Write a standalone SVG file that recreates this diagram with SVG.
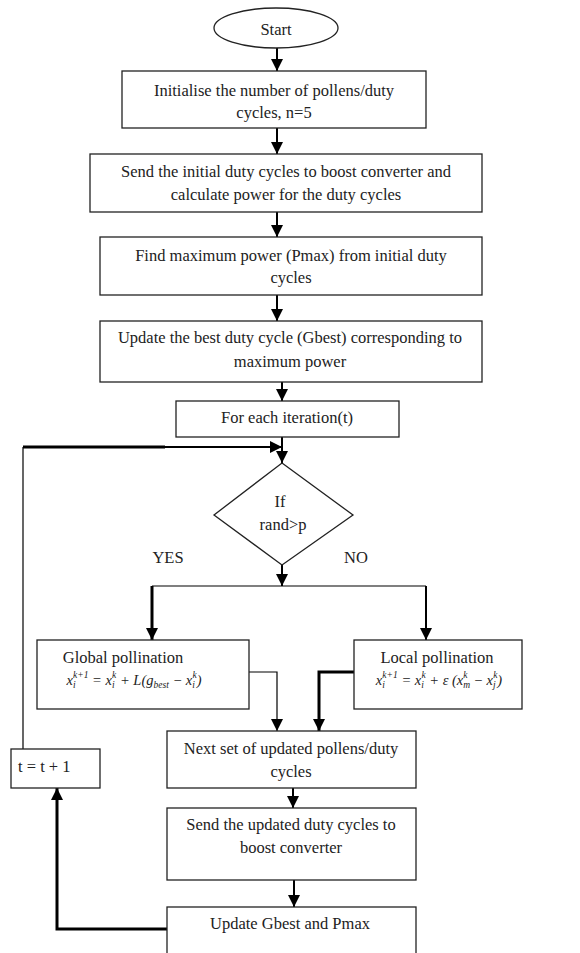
<svg xmlns="http://www.w3.org/2000/svg" width="580" height="953" viewBox="0 0 580 953">
<style>
.box{fill:#fff;stroke:#222;stroke-width:1.3}
.t{font-family:"Liberation Serif","Times New Roman",serif;font-size:16.5px;fill:#222;text-anchor:middle}
.m{font-family:"Liberation Serif","Times New Roman",serif;font-size:14.5px;font-style:italic;fill:#222;text-anchor:middle}
.s{font-size:9.5px}
.c{fill:none;stroke:#000;stroke-width:2}
.thick{stroke-width:3}
.thin{stroke-width:1.2}
</style>
<defs>
<marker id="ah" markerUnits="userSpaceOnUse" markerWidth="12" markerHeight="12" viewBox="0 0 12 12" refX="12" refY="6" orient="auto">
<path d="M0,0 L12,6 L0,12 z" fill="#000"/>
</marker>
</defs>
<rect width="580" height="953" fill="#fff"/>
<g id="connectors">
<line class="c" x1="277" y1="48" x2="277" y2="71" marker-end="url(#ah)"/>
<line class="c" x1="277" y1="128" x2="277" y2="154" marker-end="url(#ah)"/>
<line class="c" x1="277" y1="212" x2="277" y2="237" marker-end="url(#ah)"/>
<line class="c" x1="277" y1="295" x2="277" y2="321" marker-end="url(#ah)"/>
<line class="c" x1="282" y1="382" x2="282" y2="401" marker-end="url(#ah)"/>
<line class="c" x1="282" y1="437" x2="282" y2="463" marker-end="url(#ah)"/>
<line class="c thin" x1="23" y1="749" x2="23" y2="447"/>
<line class="c thick" x1="23" y1="447" x2="165" y2="447"/>
<line class="c" x1="164" y1="447" x2="282" y2="447" marker-end="url(#ah)"/>
<line class="c" x1="282" y1="565" x2="282" y2="586" marker-end="url(#ah)"/>
<line class="c thin" x1="152" y1="586" x2="426" y2="586"/>
<line class="c thick" x1="152" y1="586" x2="152" y2="640" marker-end="url(#ah)"/>
<line class="c" x1="426" y1="586" x2="426" y2="640" marker-end="url(#ah)"/>
<polyline class="c thin" points="249,672 277,672 277,731" marker-end="url(#ah)"/>
<polyline class="c thick" points="354,672 319,672 319,731" marker-end="url(#ah)"/>
<line class="c" x1="293" y1="788" x2="293" y2="808" marker-end="url(#ah)"/>
<line class="c" x1="294" y1="880" x2="294" y2="907" marker-end="url(#ah)"/>
<polyline class="c thick" points="167,929 57,929 57,788" marker-end="url(#ah)"/>
</g>
<g id="start">
<ellipse class="box" cx="276" cy="28" rx="62" ry="20"/>
<text class="t" x="276" y="35">Start</text>
</g>
<g id="init">
<rect class="box" x="122" y="71" width="304" height="57"/>
<text class="t" x="274" y="96">Initialise the number of pollens/duty</text>
<text class="t" x="274" y="118">cycles, n=5</text>
</g>
<g id="send-initial">
<rect class="box" x="90" y="154" width="392" height="58"/>
<text class="t" x="286" y="177">Send the initial duty cycles to boost converter and</text>
<text class="t" x="286" y="200">calculate power for the duty cycles</text>
</g>
<g id="find-max">
<rect class="box" x="100" y="237" width="382" height="58"/>
<text class="t" x="291" y="261">Find maximum power (Pmax) from initial duty</text>
<text class="t" x="291" y="283">cycles</text>
</g>
<g id="update-best">
<rect class="box" x="100" y="321" width="382" height="61"/>
<text class="t" x="290" y="343">Update the best duty cycle (Gbest) corresponding to</text>
<text class="t" x="290" y="367">maximum power</text>
</g>
<g id="iteration">
<rect class="box" x="176" y="401" width="223" height="36"/>
<text class="t" x="287" y="423">For each iteration(t)</text>
</g>
<g id="decision">
<polygon class="box" points="282,463 353,515 282,565 214,515"/>
<text class="t" x="280" y="507">If</text>
<text class="t" x="283" y="530">rand&gt;p</text>
</g>
<g id="labels">
<text class="t" x="168" y="563">YES</text>
<text class="t" x="356" y="563">NO</text>
</g>
<g id="global">
<rect class="box" x="37" y="640" width="212" height="69"/>
<text class="t" x="123" y="663">Global pollination</text>
<text class="m" x="134" y="685">x<tspan class="s" dy="3">i</tspan><tspan class="s" dx="-2.5" dy="-10">k+1</tspan><tspan dy="7"> = x</tspan><tspan class="s" dy="3">i</tspan><tspan class="s" dx="-2.5" dy="-10">k</tspan><tspan dy="7"> +  L(g</tspan><tspan class="s" dy="3">best</tspan><tspan dy="-3"> − x</tspan><tspan class="s" dy="3">i</tspan><tspan class="s" dx="-2.5" dy="-10">k</tspan><tspan dy="7">)</tspan></text>
</g>
<g id="local">
<rect class="box" x="354" y="640" width="168" height="69"/>
<text class="t" x="437" y="663">Local pollination</text>
<text class="m" x="439" y="685">x<tspan class="s" dy="3">i</tspan><tspan class="s" dx="-2.5" dy="-10">k+1</tspan><tspan dy="7"> = x</tspan><tspan class="s" dy="3">i</tspan><tspan class="s" dx="-2.5" dy="-10">k</tspan><tspan dy="7"> +  ε  (x</tspan><tspan class="s" dy="3">m</tspan><tspan class="s" dx="-6.8" dy="-10">k</tspan><tspan dx="2" dy="7"> − x</tspan><tspan class="s" dy="3">j</tspan><tspan class="s" dx="-2.5" dy="-10">k</tspan><tspan dy="7">)</tspan></text>
</g>
<g id="next-set">
<rect class="box" x="167" y="731" width="249" height="57"/>
<text class="t" x="291" y="754">Next set of updated pollens/duty</text>
<text class="t" x="291" y="777">cycles</text>
</g>
<g id="t-increment">
<rect class="box" x="11" y="749" width="89" height="39"/>
<text class="t" x="18" y="772" style="text-anchor:start">t = t + 1</text>
</g>
<g id="send-updated">
<rect class="box" x="167" y="808" width="249" height="72"/>
<text class="t" x="291" y="830">Send the updated duty cycles to</text>
<text class="t" x="291" y="853">boost converter</text>
</g>
<g id="update-gbest">
<rect class="box" x="167" y="907" width="249" height="60"/>
<text class="t" x="290" y="929">Update Gbest and Pmax</text>
</g>
</svg>
